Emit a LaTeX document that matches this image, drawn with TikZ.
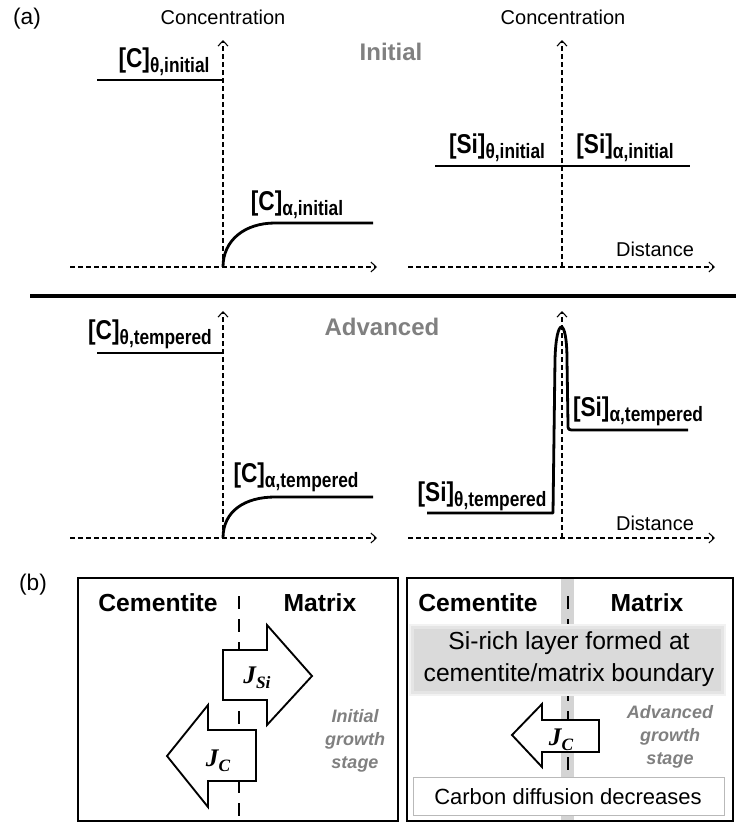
\documentclass[tikz,border=0pt]{standalone}
\usepackage{fontspec}
\setmainfont{Liberation Sans}
\newfontfamily\jfont{Liberation Serif}
\usetikzlibrary{arrows.meta}
\definecolor{tg}{RGB}{128,128,128}
\definecolor{band}{RGB}{212,212,212}
\definecolor{layer}{RGB}{218,218,218}
\newcommand{\lab}[2]{\scalebox{1}[1.2]{{\fontsize{17}{17}\selectfont\bfseries[#1]}{\fontsize{13}{13}\selectfont\bfseries\raisebox{-3pt}{#2}}}}
\newcommand{\flux}[1]{{\jfont\bfseries\itshape\fontsize{19}{19}\selectfont J\raisebox{-4pt}{\fontsize{13}{13}\selectfont #1}}}
\tikzset{
  axis/.style={line width=0.8pt, dash pattern=on 3.5pt off 2.5pt, -{Straight Barb[length=4pt,width=7.5pt]}},
  prof/.style={line width=2.1pt},
  axtext/.style={inner sep=0pt, font=\fontsize{15}{15}\selectfont},
  stage/.style={inner sep=0pt, text=tg, font=\fontsize{18}{18}\selectfont\bfseries},
  phase/.style={inner sep=0pt, font=\fontsize{18.5}{18.5}\selectfont\bfseries},
  plab/.style={inner sep=0pt, anchor=south},
  box/.style={line width=1.5pt},
  flow/.style={line width=1.4pt, fill=white},
  iface/.style={line width=2.2pt, dash pattern=on 9.75pt off 7.5pt},
  note/.style={inner sep=0pt, text=tg, align=center, font=\fontsize{13.5}{17.5}\selectfont\bfseries\itshape}
}
\begin{document}
\begin{tikzpicture}[x=0.75pt, y=-0.75pt]
\useasboundingbox (0,0) rectangle (736,822);
% (a) initial
\node (a) [inner sep=0pt, font=\fontsize{17}{17}\selectfont] at (27,19) {(a)};
\coordinate (o1) at (223,267);
\coordinate (y1) at (223,40);
\coordinate (s1) at (70,267);
\coordinate (x1) at (377,267);
\draw [axis] (s1) -- (x1);
\draw [axis] (o1) -- (y1);
\node (c1) [axtext] at (223,17) {Concentration};
\draw [prof] (97,80) -- (223,80);
\draw [prof] (223,267) .. controls (223,240) and (245,223) .. (275,223) -- (373,223);
\node (lt1) [plab] at (164,76) {\lab{C}{θ,initial}};
\node (la1) [plab] at (297,219) {\lab{C}{α,initial}};
\node (ini) [stage] at (391,52) {Initial};
\coordinate (o2) at (562,267);
\coordinate (y2) at (562,40);
\coordinate (s2) at (408,267);
\coordinate (x2) at (715,267);
\draw [axis] (s2) -- (x2);
\draw [axis] (o2) -- (y2);
\node (c2) [axtext] at (563,17) {Concentration};
\node (d1) [axtext] at (655,249) {Distance};
\draw [prof] (435,166) -- (690,166);
\node (lt2) [plab] at (497,162) {\lab{Si}{θ,initial}};
\node (la2) [plab] at (625,162) {\lab{Si}{α,initial}};
% separator
\draw [line width=3pt] (30,296) -- (736,296);
% (a) advanced
\coordinate (o3) at (223,538);
\coordinate (y3) at (223,311);
\coordinate (s3) at (70,538);
\coordinate (x3) at (377,538);
\draw [axis] (s3) -- (x3);
\draw [axis] (o3) -- (y3);
\draw [prof] (97,353) -- (223,353);
\draw [prof] (223,538) .. controls (223,511) and (245,497) .. (275,497) -- (373,497);
\node (lt3) [plab] at (150,349) {\lab{C}{θ,tempered}};
\node (la3) [plab] at (296,492) {\lab{C}{α,tempered}};
\node (adv) [stage] at (382,327) {Advanced};
\coordinate (o4) at (562,538);
\coordinate (y4) at (562,311);
\coordinate (s4) at (408,538);
\coordinate (x4) at (715,538);
\draw [axis] (s4) -- (x4);
\draw [axis] (o4) -- (y4);
\node (d2) [axtext] at (655,523) {Distance};
\draw [prof, line join=round] (427,513) -- (553,513) -- (555,360) .. controls (556,316) and (567,316) .. (567,360) -- (568,424) .. controls (568,430) .. (575,430) -- (688,430);
\node (lt4) [plab] at (482,511) {\lab{Si}{θ,tempered}};
\node (la4) [plab] at (638,426) {\lab{Si}{α,tempered}};
% (b) initial growth
\node (b) [inner sep=0pt, font=\fontsize{17}{17}\selectfont] at (33,585) {(b)};
\draw [box] (78,578) rectangle (398,821);
\node (cem1) [phase] at (158,603) {Cementite};
\node (mat1) [phase] at (320,603) {Matrix};
\draw [iface] (239,596) -- (239,822);
\draw [flow] (223,650) -- (267,650) -- (267,625) -- (312,676) -- (267,725) -- (267,700) -- (223,700) -- cycle;
\draw [flow] (256,730) -- (208,730) -- (208,705) -- (167,756) -- (208,807) -- (208,781) -- (256,781) -- cycle;
\node (jsi) [inner sep=0pt] at (257,678) {\flux{Si}};
\node (jc1) [inner sep=0pt] at (218,761) {\flux{C}};
\node (n1) [note] at (355,741) {Initial\\growth\\stage};
% (b) advanced growth
\fill [band] (561,578) rectangle (574,821);
\draw [iface] (568,596) -- (568,822);
\draw [box] (407,578) rectangle (733,821);
\node (cem2) [phase] at (478,603) {Cementite};
\node (mat2) [phase] at (647,603) {Matrix};
\fill [layer!35] (409,624) rectangle (726,696);
\fill [layer!70] (411,626) rectangle (724,694);
\fill [layer] (414,629) rectangle (721,691);
\node (si) [inner sep=0pt, align=center, font=\fontsize{18.5}{24}\selectfont] at (569,659) {Si-rich layer formed at\\cementite/matrix boundary};
\draw [flow] (599,720) -- (542,720) -- (542,704) -- (512,735) -- (542,767) -- (542,752) -- (599,752) -- cycle;
\node (jc2) [inner sep=0pt] at (561,740) {\flux{C}};
\node (n2) [note] at (670,737) {Advanced\\growth\\stage};
\draw [draw=gray!55, fill=white, line width=0.6pt] (413,777) rectangle (724,815);
\node (cd) [inner sep=0pt, font=\fontsize{16.5}{16.5}\selectfont] at (568,797) {Carbon diffusion decreases};
\end{tikzpicture}
\end{document}
